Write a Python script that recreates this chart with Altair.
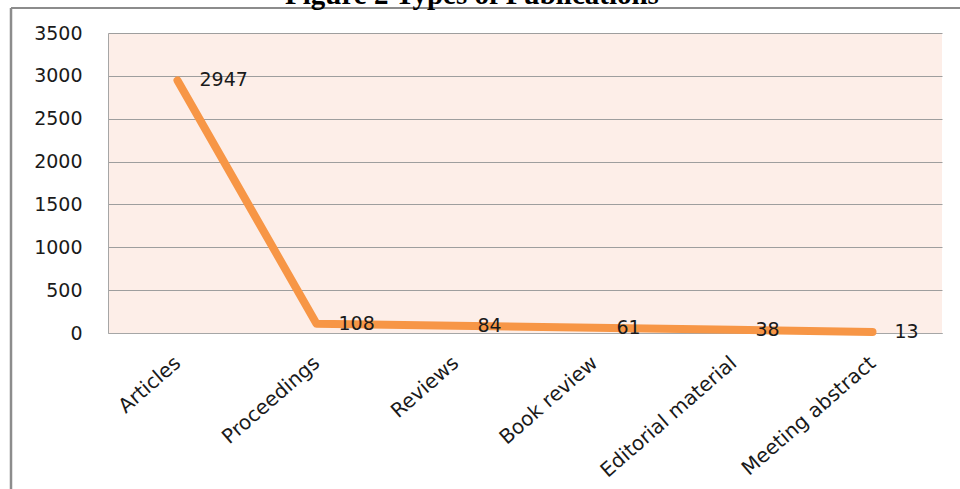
import altair as alt
import pandas as pd

categories = ["Articles", "Proceedings", "Reviews", "Book review", "Editorial material", "Meeting abstract"]
counts = [2947, 108, 84, 61, 38, 13]
title_text = "Figure 2 Types of Publications"
y_ticks = [0, 500, 1000, 1500, 2000, 2500, 3000, 3500]

df = pd.DataFrame({"type": categories, "count": counts})
one = pd.DataFrame({"k": [0]})

FONT = "DejaVu Sans"
PLOT_W, PLOT_H = 834, 300
PAD_L, PAD_T = 108, 33

x_enc = alt.X("type:N", sort=None, scale=alt.Scale(type="point", padding=0.5),
              axis=alt.Axis(title=None, labelAngle=-41, labelAlign="right", labelBaseline="middle",
                            labelPadding=27, ticks=False, domain=True, domainColor="#a6a6a6",
                            labelFont=FONT, labelFontSize=20, labelColor="#1a1a1a", grid=False))
y_enc = alt.Y("count:Q", scale=alt.Scale(domain=[0, 3500], nice=False),
              axis=alt.Axis(title=None, values=y_ticks, format="d", ticks=False, domain=True,
                            domainColor="#a6a6a6", grid=True, gridColor="#9e9e9e", gridWidth=1,
                            labelPadding=26, labelFont=FONT, labelFontSize=19, labelColor="#1a1a1a"))

line = alt.Chart(df).mark_line(color="#F79646", strokeWidth=8, strokeCap="round",
                               strokeJoin="round").encode(x=x_enc, y=y_enc)

labels = alt.Chart(df).mark_text(align="left", baseline="middle", dx=22, dy=0,
                                 font=FONT, fontSize=19, color="#1a1a1a").encode(
    x=alt.X("type:N", sort=None), y="count:Q", text="count:Q")

frame_left = alt.Chart(one).mark_rule(color="#8c8c8c", strokeWidth=2.5).encode(
    x=alt.value(11 - PAD_L), y=alt.value(8 - PAD_T), y2=alt.value(489 - PAD_T + 10))
frame_top = alt.Chart(one).mark_rule(color="#8c8c8c", strokeWidth=2).encode(
    x=alt.value(11 - PAD_L), x2=alt.value(960 - PAD_L + 10), y=alt.value(8 - PAD_T))

title = alt.Chart(one).mark_text(align="center", baseline="alphabetic", font="Liberation Serif",
                                 fontWeight="bold", fontSize=29, color="#000000").encode(
    x=alt.value(472 - PAD_L), y=alt.value(4 - PAD_T), text=alt.value(title_text))

chart = alt.layer(line, labels, frame_left, frame_top, title).properties(
    width=PLOT_W, height=PLOT_H,
    autosize=alt.AutoSizeParams(type="none"),
    padding={"left": PAD_L, "top": PAD_T, "right": 960 - PAD_L - PLOT_W, "bottom": 489 - PAD_T - PLOT_H},
    background="#ffffff",
).configure_view(fill="#fdeee8", stroke=None)

chart.save("out.html", embed_options={"renderer": "svg", "actions": False})
